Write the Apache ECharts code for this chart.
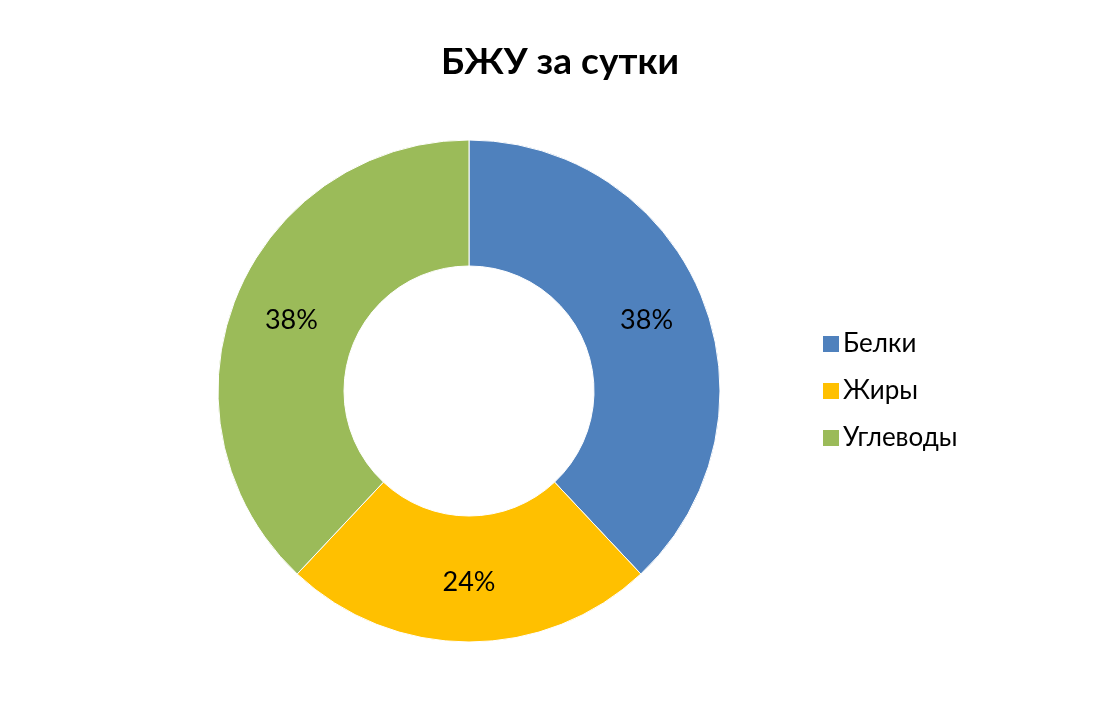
<!DOCTYPE html>
<html><head><meta charset="utf-8">
<script src="https://cdn.jsdelivr.net/npm/echarts@6/dist/echarts.min.js"></script>
<style>html,body{margin:0;padding:0;background:#fff}#c{width:1120px;height:720px}</style>
</head><body><div id="c"></div>
<script>
const categories = ['Белки', 'Жиры', 'Углеводы'];
const values = [38, 24, 38];
const colors = ['#4F81BD', '#FFC000', '#9BBB59'];
const titleText = 'БЖУ за сутки';
const FONT = 'Lato, "Open Sans", sans-serif';

const chart = echarts.init(document.getElementById('c'));
chart.setOption({
  animation: false,
  backgroundColor: '#fff',
  title: {
    text: titleText, left: 555, top: 39, textAlign: 'center',
    textStyle: { fontFamily: FONT, fontSize: 37, fontWeight: 'bold', color: '#000' }
  },
  legend: {
    orient: 'vertical', left: 816, top: 326, itemWidth: 18, itemHeight: 18, itemGap: 21,
    icon: 'rect',
    textStyle: { fontFamily: FONT, fontSize: 26, color: '#000', padding: [0, 0, 0, -2] },
    data: categories
  },
  series: [{
    type: 'pie', center: [469, 391], radius: [125, 251], startAngle: 90, clockwise: true,
    color: colors,
    label: {
      show: true, position: 'inside', formatter: '{d}%',
      fontFamily: FONT, fontSize: 27, color: '#000'
    },
    labelLine: { show: false },
    itemStyle: { borderColor: '#fff', borderWidth: 1 },
    emphasis: { disabled: true },
    data: categories.map((n, i) => ({ name: n, value: values[i] }))
  }]
});
</script></body></html>
